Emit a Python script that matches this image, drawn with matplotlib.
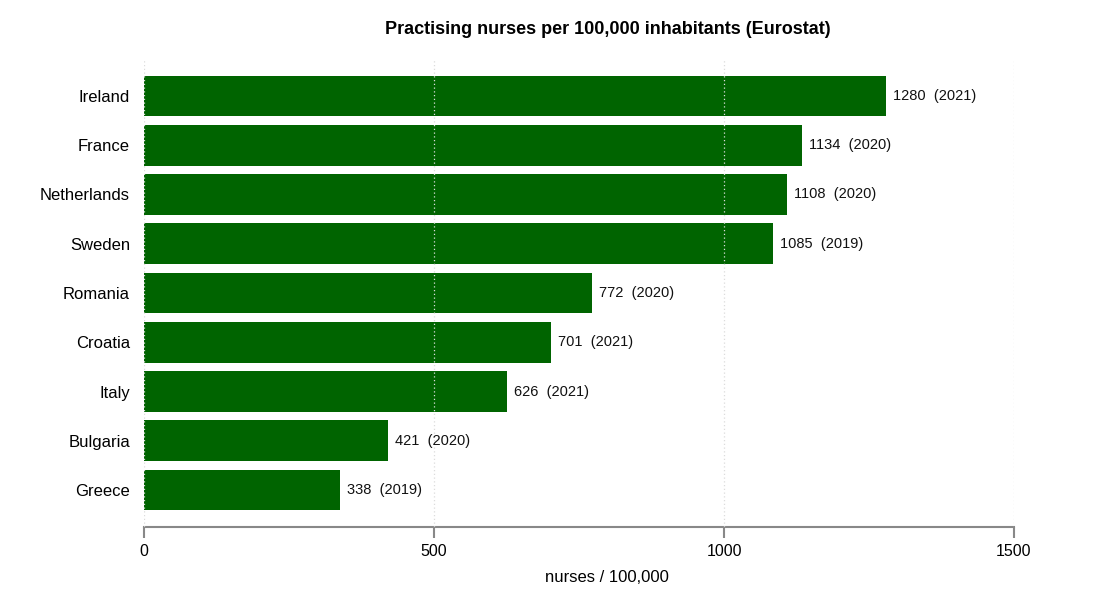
import matplotlib
matplotlib.use("Agg")
import matplotlib.pyplot as plt

countries = ["Ireland", "France", "Netherlands", "Sweden", "Romania", "Croatia", "Italy", "Bulgaria", "Greece"]
values = [1280, 1134, 1108, 1085, 772, 701, 626, 421, 338]
years = [2021, 2020, 2020, 2019, 2020, 2021, 2021, 2020, 2019]
xticks = [0, 500, 1000, 1500]

plt.rcParams['font.family'] = ['Liberation Sans', 'DejaVu Sans']

fig = plt.figure(figsize=(11, 6), dpi=100)
ax = fig.add_axes([144/1100, 73/600, 870/1100, 468/600])

pos = list(range(len(countries)))
ax.barh(pos, values, height=0.83, color="#006400", zorder=1)
for p, v, yr in zip(pos, values, years):
    ax.text(v + 12, p, f"{v}  ({yr})", va="center", ha="left", fontsize=10.5, color="#111111")

ax.set_ylim(len(countries) - 1 + 0.75, -0.75)
ax.set_xlim(0, 1500)
ax.set_yticks(pos)
ax.set_yticklabels(countries, fontsize=12)
ax.set_xticks(xticks)
ax.set_xticklabels([str(t) for t in xticks], fontsize=11.5)
ax.tick_params(axis="y", length=0, pad=10)
ax.tick_params(axis="x", length=8, color="#888888", width=1.5, pad=4)
for s in ["top", "right", "left"]:
    ax.spines[s].set_visible(False)
ax.spines["bottom"].set_color("#888888")
ax.spines["bottom"].set_linewidth(1.5)
ax.grid(axis="x", color="#dcdcdc", linestyle=(0, (1, 2)), linewidth=0.9, zorder=3)
ax.set_axisbelow(False)
fig.text(607/1100, 1 - 577/600, "nurses / 100,000", ha="center", va="center", fontsize=12)
fig.text(608/1100, 1 - 30/600, "Practising nurses per 100,000 inhabitants (Eurostat)",
         ha="center", va="center", fontsize=13, fontweight="bold")

fig.savefig("out.png", dpi=100)
